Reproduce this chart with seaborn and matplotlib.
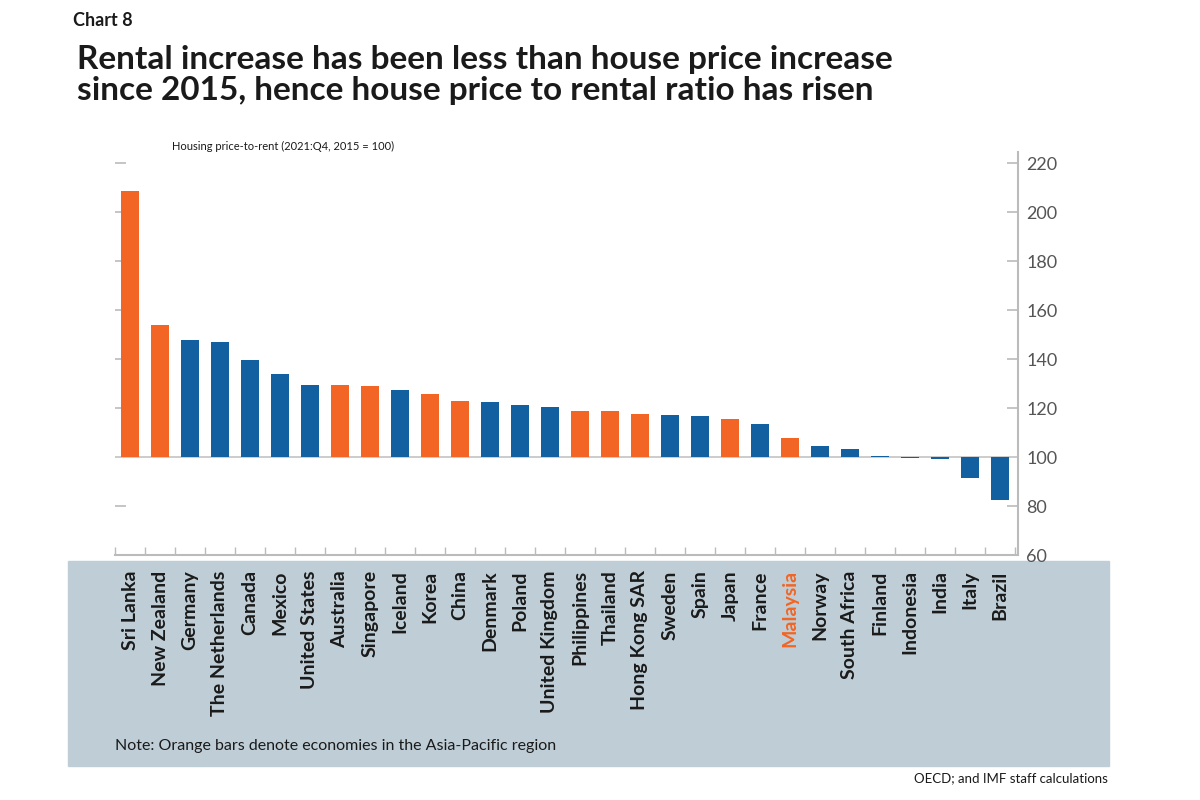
import numpy as np
import pandas as pd
import matplotlib
matplotlib.use("Agg")
import matplotlib.pyplot as plt
from matplotlib.ticker import FuncFormatter, FixedLocator
import seaborn as sns

# chart values
countries = ['Sri Lanka', 'New Zealand', 'Germany', 'The Netherlands', 'Canada', 'Mexico',
             'United States', 'Australia', 'Singapore', 'Iceland', 'Korea', 'China',
             'Denmark', 'Poland', 'United Kingdom', 'Philippines', 'Thailand', 'Hong Kong SAR',
             'Sweden', 'Spain', 'Japan', 'France', 'Malaysia', 'Norway', 'South Africa',
             'Finland', 'Indonesia', 'India', 'Italy', 'Brazil']
price_to_rent = [208.4, 154.0, 147.6, 147.1, 139.6, 133.9, 129.5, 129.5, 129.1, 127.3,
                 125.6, 122.7, 122.4, 121.4, 120.5, 118.9, 118.8, 117.6, 117.3, 116.6,
                 115.5, 113.5, 107.8, 104.4, 103.4, 100.4, 99.6, 99.3, 91.6, 82.6]
asia_pacific = ['Sri Lanka', 'New Zealand', 'Australia', 'Singapore', 'Korea', 'China',
                'Philippines', 'Thailand', 'Hong Kong SAR', 'Japan', 'Malaysia']
y_ticks = [60, 80, 100, 120, 140, 160, 180, 200, 220]

ORANGE = '#F26524'
BLUE = '#1360A0'
GREY = '#BBBBBB'
BASE = 100

df = pd.DataFrame({'country': countries, 'value': price_to_rent})
df['region'] = np.where(df['country'].isin(asia_pacific), 'Asia-Pacific', 'Other')
df['dev'] = df['value'] - BASE  # bars hang from the 100 line

sns.set_style('white')
plt.rcParams['font.family'] = ['Lato', 'DejaVu Sans']

fig = plt.figure(figsize=(12, 8), dpi=100)
# grey-blue panel behind the country names
panel = plt.Rectangle((68 / 1200, 1 - 766 / 800), (1109 - 68) / 1200, (766 - 561) / 800,
                      transform=fig.transFigure, color='#BFCED6', zorder=-5)
fig.patches.append(panel)

ax = fig.add_axes([115 / 1200, 1 - 555 / 800, (1018 - 115) / 1200, (555 - 152) / 800])
ax.set_facecolor('none')

sns.barplot(data=df, x='country', y='dev', hue='region', order=countries,
            palette={'Asia-Pacific': ORANGE, 'Other': BLUE}, legend=False,
            width=0.58, saturation=1, linewidth=0, ax=ax, zorder=3)

ax.set_xlim(-0.5, 29.6)
ax.set_ylim(60 - BASE, 224.5 - BASE)
ax.axhline(0, color='#CCCCCC', lw=1.4, zorder=2)

ax.yaxis.set_major_locator(FixedLocator([t - BASE for t in y_ticks]))
ax.yaxis.set_major_formatter(FuncFormatter(lambda v, p: f'{v + BASE:.0f}'))
ax.tick_params(axis='y', left=True, right=True, labelleft=False, labelright=True,
               direction='in', length=8, width=1.2, color=GREY,
               labelsize=13, labelcolor='#555555', pad=6)

for s in ['top', 'left']:
    ax.spines[s].set_visible(False)
for s in ['bottom', 'right']:
    ax.spines[s].set_color(GREY)
    ax.spines[s].set_linewidth(1.5)

ax.set_xticks(range(len(countries)))
ax.set_xticks(np.arange(-0.5, 30, 1), minor=True)
ax.tick_params(axis='x', which='minor', bottom=True, direction='in', length=6, width=1, color=GREY)
ax.tick_params(axis='x', which='major', bottom=False, length=0, pad=11)
ax.set_xticklabels(countries, rotation=90, va='top', ha='center',
                   fontsize=14, fontweight='bold', color='#1A1A1A')
for lab in ax.get_xticklabels():
    if lab.get_text() == 'Malaysia':
        lab.set_color(ORANGE)
ax.set_xlabel('')
ax.set_ylabel('')

fig.text(73 / 1200, 1 - 20 / 800, 'Chart 8', fontsize=13, fontweight='bold',
         color='#1A1A1A', va='center', ha='left')
fig.text(77 / 1200, 1 - 45 / 800, 'Rental increase has been less than house price increase\n'
         'since 2015, hence house price to rental ratio has risen',
         fontsize=24, fontweight='bold', color='#1A1A1A', va='top', ha='left',
         linespacing=1.1)
fig.text(172 / 1200, 1 - 146 / 800, 'Housing price-to-rent (2021:Q4, 2015 = 100)',
         fontsize=8, color='#1A1A1A', va='center', ha='left')
fig.text(115 / 1200, 1 - 746 / 800,
         'Note: Orange bars denote economies in the Asia-Pacific region',
         fontsize=11.5, color='#1A1A1A', va='center', ha='left')
fig.text(1108 / 1200, 1 - 778 / 800, 'OECD; and IMF staff calculations',
         fontsize=9.5, color='#1A1A1A', va='center', ha='right')

fig.savefig('out.png', dpi=100, facecolor='white')
